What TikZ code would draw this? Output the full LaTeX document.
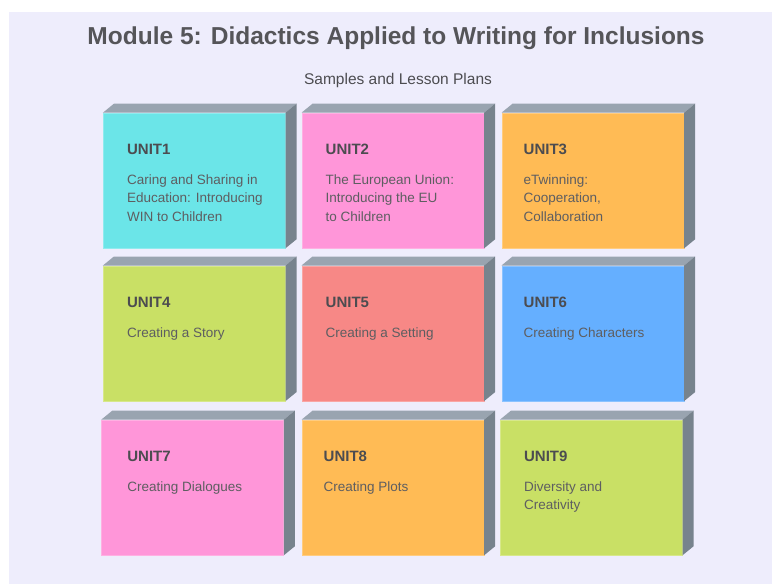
\documentclass[tikz,border=0pt]{standalone}
\usepackage{fontspec}
\setmainfont{Liberation Sans}
\usepackage{tikz}
\usetikzlibrary{positioning}
\definecolor{bglav}{HTML}{EEEDFC}
\definecolor{facetop}{HTML}{99A4B0}
\definecolor{faceside}{HTML}{77838D}
\definecolor{inkgray}{HTML}{4C4C50}
\definecolor{cyanbox}{HTML}{6BE5E8}
\definecolor{pinkbox}{HTML}{FF96D9}
\definecolor{orangebox}{HTML}{FFBB55}
\definecolor{greenbox}{HTML}{C9E065}
\definecolor{salmonbox}{HTML}{F78886}
\definecolor{bluebox}{HTML}{65AFFF}

\begin{document}
\begin{tikzpicture}[x=1pt,y=-1pt]
            \tikzset{
                unit box/.style={rectangle,fill=#1,draw=#1!75!white,line width=0.6pt,minimum width=182pt,minimum height=135pt,inner sep=0},
                top face/.style={fill=facetop},
                side face/.style={fill=faceside},
                unit title/.style={anchor=base west,inner sep=0,text=inkgray,font=\bfseries\fontsize{15}{18}\selectfont},
                unit text/.style={anchor=north west,inner sep=0,align=left,text=inkgray!90,font=\fontsize{13.5}{18.3}\selectfont}
            }
            \useasboundingbox (0,0) rectangle (772,584);
            \fill[white] (0,0) rectangle (772,584);
            \fill[bglav] (9,12) rectangle (772,584);
            \node[anchor=base,text=inkgray!95,font=\bfseries\fontsize{24.5}{28}\selectfont] (title) at (396,44) {Module 5: Didactics Applied to Writing for Inclusions};
            \node[anchor=base,text=inkgray,font=\fontsize{15.5}{18}\selectfont] (sub) at (398,84) {Samples and Lesson Plans};
            % front faces
            \node[unit box=cyanbox]   (u1) at (194.2,180.5) {};
            \node[unit box=pinkbox]   (u2) at (392.8,180.5) {};
            \node[unit box=orangebox] (u3) at (592.8,180.5) {};
            \node[unit box=greenbox]  (u4) at (194.2,333.3) {};
            \node[unit box=salmonbox] (u5) at (392.8,333.3) {};
            \node[unit box=bluebox]   (u6) at (592.8,333.3) {};
            \node[unit box=pinkbox]   (u7) at (192.5,487.5) {};
            \node[unit box=orangebox] (u8) at (392.8,487.5) {};
            \node[unit box=greenbox]  (u9) at (591.2,487.5) {};
            % top and side faces
            \fill[top face]  (u1.north west) -- ++(11,-9) -- ([shift={(11,-9)}]u1.north east) -- (u1.north east) -- cycle;
            \fill[side face] (u1.north east) -- ++(11,-9) -- ([shift={(11,-9)}]u1.south east) -- (u1.south east) -- cycle;
            \fill[top face]  (u2.north west) -- ++(11,-9) -- ([shift={(11,-9)}]u2.north east) -- (u2.north east) -- cycle;
            \fill[side face] (u2.north east) -- ++(11,-9) -- ([shift={(11,-9)}]u2.south east) -- (u2.south east) -- cycle;
            \fill[top face]  (u3.north west) -- ++(11,-9) -- ([shift={(11,-9)}]u3.north east) -- (u3.north east) -- cycle;
            \fill[side face] (u3.north east) -- ++(11,-9) -- ([shift={(11,-9)}]u3.south east) -- (u3.south east) -- cycle;
            \fill[top face]  (u4.north west) -- ++(11,-9) -- ([shift={(11,-9)}]u4.north east) -- (u4.north east) -- cycle;
            \fill[side face] (u4.north east) -- ++(11,-9) -- ([shift={(11,-9)}]u4.south east) -- (u4.south east) -- cycle;
            \fill[top face]  (u5.north west) -- ++(11,-9) -- ([shift={(11,-9)}]u5.north east) -- (u5.north east) -- cycle;
            \fill[side face] (u5.north east) -- ++(11,-9) -- ([shift={(11,-9)}]u5.south east) -- (u5.south east) -- cycle;
            \fill[top face]  (u6.north west) -- ++(11,-9) -- ([shift={(11,-9)}]u6.north east) -- (u6.north east) -- cycle;
            \fill[side face] (u6.north east) -- ++(11,-9) -- ([shift={(11,-9)}]u6.south east) -- (u6.south east) -- cycle;
            \fill[top face]  (u7.north west) -- ++(11,-9) -- ([shift={(11,-9)}]u7.north east) -- (u7.north east) -- cycle;
            \fill[side face] (u7.north east) -- ++(11,-9) -- ([shift={(11,-9)}]u7.south east) -- (u7.south east) -- cycle;
            \fill[top face]  (u8.north west) -- ++(11,-9) -- ([shift={(11,-9)}]u8.north east) -- (u8.north east) -- cycle;
            \fill[side face] (u8.north east) -- ++(11,-9) -- ([shift={(11,-9)}]u8.south east) -- (u8.south east) -- cycle;
            \fill[top face]  (u9.north west) -- ++(11,-9) -- ([shift={(11,-9)}]u9.north east) -- (u9.north east) -- cycle;
            \fill[side face] (u9.north east) -- ++(11,-9) -- ([shift={(11,-9)}]u9.south east) -- (u9.south east) -- cycle;
            % labels
            \node[unit title] (t1) at ([shift={(24,42)}]u1.north west) {UNIT1};
            \node[unit text]  (d1) at ([shift={(24,62)}]u1.north west) {Caring and Sharing in\\Education: Introducing\\WIN to Children};
            \node[unit title] (t2) at ([shift={(24,42)}]u2.north west) {UNIT2};
            \node[unit text]  (d2) at ([shift={(24,62)}]u2.north west) {The European Union:\\Introducing the EU\\to Children};
            \node[unit title] (t3) at ([shift={(22,42)}]u3.north west) {UNIT3};
            \node[unit text]  (d3) at ([shift={(22,62)}]u3.north west) {eTwinning:\\Cooperation,\\Collaboration};
            \node[unit title] (t4) at ([shift={(24,42)}]u4.north west) {UNIT4};
            \node[unit text]  (d4) at ([shift={(24,62)}]u4.north west) {Creating a Story};
            \node[unit title] (t5) at ([shift={(24,42)}]u5.north west) {UNIT5};
            \node[unit text]  (d5) at ([shift={(24,62)}]u5.north west) {Creating a Setting};
            \node[unit title] (t6) at ([shift={(22,42)}]u6.north west) {UNIT6};
            \node[unit text]  (d6) at ([shift={(22,62)}]u6.north west) {Creating Characters};
            \node[unit title] (t7) at ([shift={(26,42)}]u7.north west) {UNIT7};
            \node[unit text]  (d7) at ([shift={(26,62)}]u7.north west) {Creating Dialogues};
            \node[unit title] (t8) at ([shift={(22,42)}]u8.north west) {UNIT8};
            \node[unit text]  (d8) at ([shift={(22,62)}]u8.north west) {Creating Plots};
            \node[unit title] (t9) at ([shift={(24,42)}]u9.north west) {UNIT9};
            \node[unit text]  (d9) at ([shift={(24,62)}]u9.north west) {Diversity and\\Creativity};
        \end{tikzpicture}
\end{document}
